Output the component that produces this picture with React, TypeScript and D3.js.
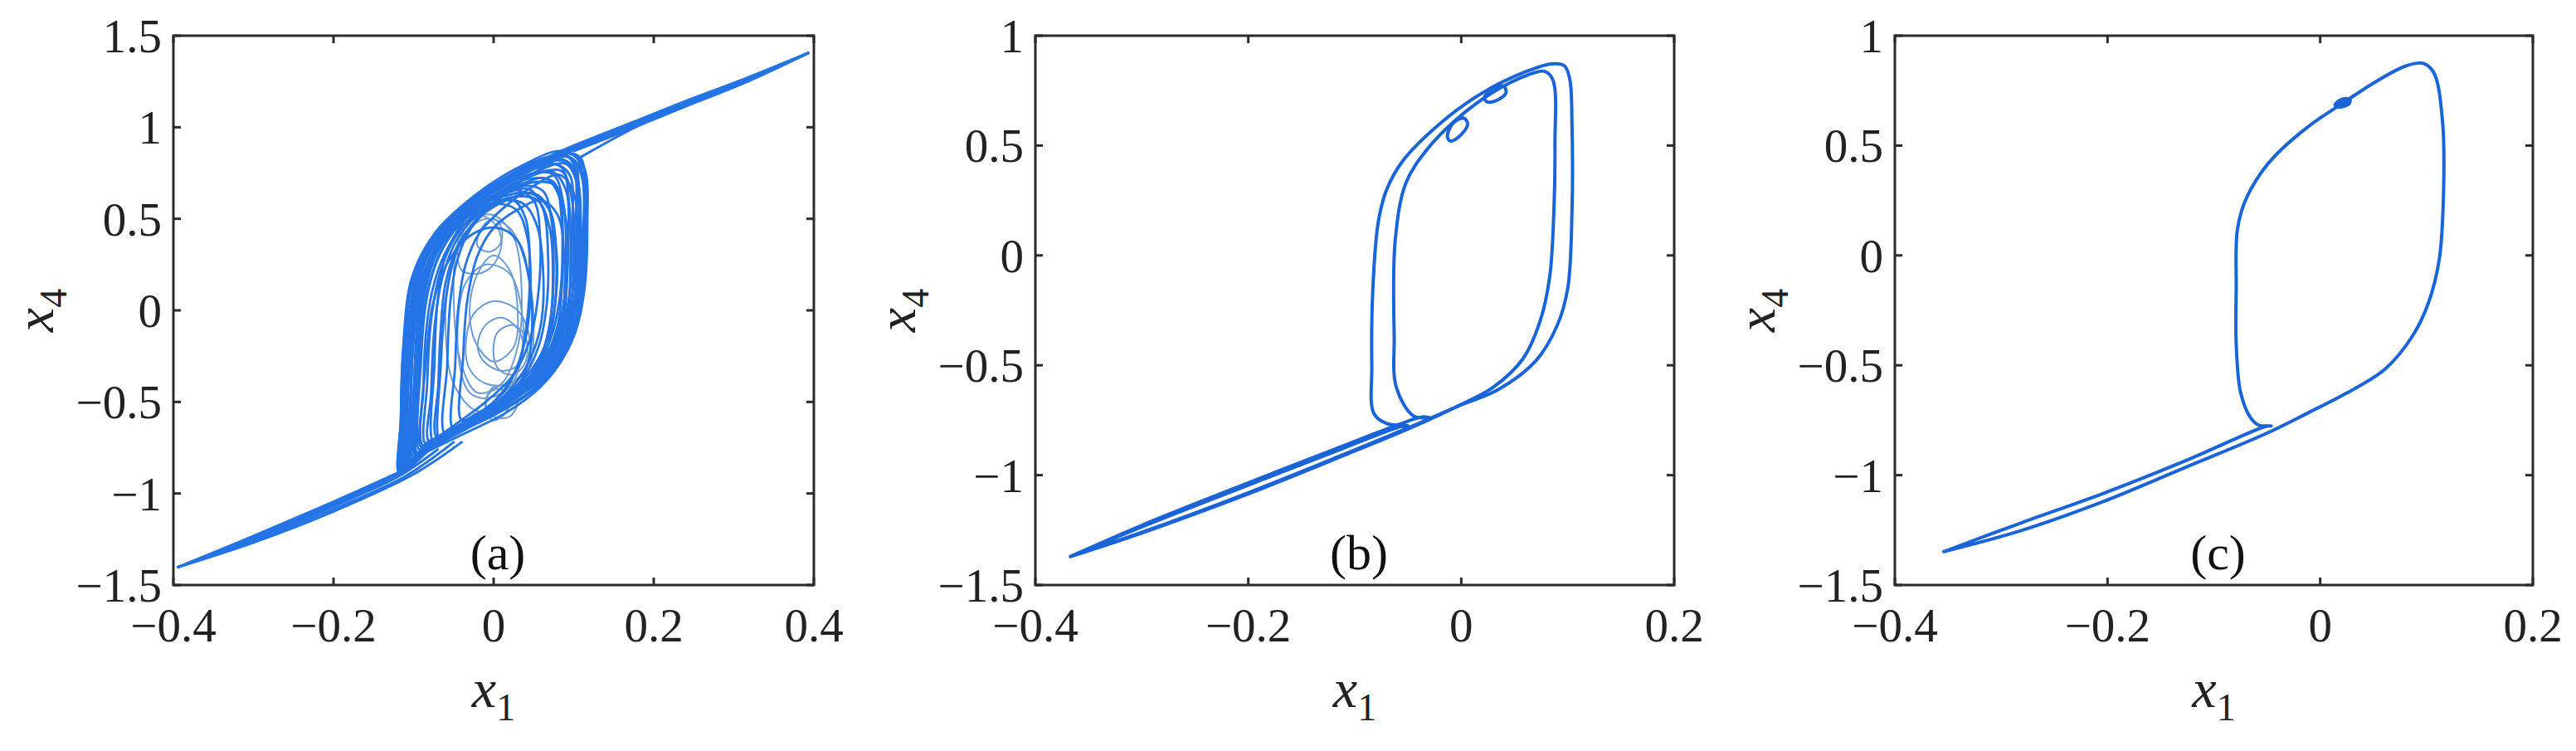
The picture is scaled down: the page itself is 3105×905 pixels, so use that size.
import React from 'react';
import * as d3 from 'd3';

type Pt = [number, number];

// ---- axes ticks ----
const aTicksX = [-0.4, -0.2, 0, 0.2, 0.4];
const aTicksY = [-1.5, -1, -0.5, 0, 0.5, 1, 1.5];
const bcTicksX = [-0.4, -0.2, 0, 0.2];
const bcTicksY = [-1.5, -1, -0.5, 0, 0.5, 1];
const panelLabels = ['(a)', '(b)', '(c)'];

// ---- panel (a): chaotic band ----
const aLoops: Pt[][] = [
  [[-0.116,-0.88],[-0.115,-0.55],[-0.111,-0.15],[-0.098,0.22],[-0.065,0.46],[-0.02,0.64],[0.035,0.79],[0.085,0.87],[0.11,0.80],[0.116,0.45],[0.112,0.10],[0.098,-0.14],[0.07,-0.33],[0.02,-0.50],[-0.04,-0.64],[-0.09,-0.78]],
  [[-0.112,-0.86],[-0.111,-0.5],[-0.106,-0.1],[-0.092,0.24],[-0.058,0.47],[-0.015,0.63],[0.04,0.78],[0.088,0.85],[0.108,0.76],[0.112,0.40],[0.108,0.06],[0.092,-0.17],[0.062,-0.35],[0.012,-0.51],[-0.045,-0.65],[-0.09,-0.76]],
  [[-0.108,-0.84],[-0.107,-0.45],[-0.101,-0.05],[-0.086,0.26],[-0.052,0.48],[-0.01,0.62],[0.045,0.77],[0.092,0.84],[0.105,0.72],[0.108,0.35],[0.103,0.02],[0.085,-0.2],[0.052,-0.38],[0.0,-0.53],[-0.05,-0.66],[-0.088,-0.75]],
  [[-0.104,-0.82],[-0.103,-0.4],[-0.097,0.0],[-0.08,0.28],[-0.045,0.5],[0.0,0.63],[0.05,0.74],[0.085,0.76],[0.098,0.6],[0.1,0.25],[0.093,-0.05],[0.072,-0.25],[0.04,-0.41],[-0.01,-0.55],[-0.055,-0.66],[-0.085,-0.74]],
  [[-0.1,-0.8],[-0.099,-0.38],[-0.093,0.02],[-0.076,0.3],[-0.042,0.5],[0.005,0.62],[0.05,0.7],[0.078,0.68],[0.09,0.5],[0.092,0.18],[0.084,-0.1],[0.062,-0.29],[0.03,-0.44],[-0.015,-0.56],[-0.058,-0.67],[-0.084,-0.74]],
  [[-0.097,-0.78],[-0.095,-0.35],[-0.088,0.05],[-0.07,0.32],[-0.036,0.52],[0.01,0.62],[0.045,0.64],[0.068,0.56],[0.078,0.35],[0.078,0.08],[0.068,-0.15],[0.048,-0.32],[0.018,-0.46],[-0.022,-0.57],[-0.06,-0.67],[-0.083,-0.73]],
  [[-0.093,-0.76],[-0.091,-0.3],[-0.083,0.08],[-0.064,0.34],[-0.03,0.52],[0.01,0.6],[0.038,0.58],[0.055,0.45],[0.062,0.2],[0.06,-0.05],[0.05,-0.22],[0.032,-0.37],[0.005,-0.5],[-0.03,-0.6],[-0.065,-0.68],[-0.083,-0.72]],
  [[-0.088,-0.74],[-0.085,-0.3],[-0.075,0.05],[-0.055,0.28],[-0.025,0.42],[0.005,0.45],[0.03,0.38],[0.045,0.15],[0.048,-0.1],[0.042,-0.3],[0.025,-0.45],[0.0,-0.56],[-0.035,-0.64],[-0.07,-0.7]],
  [[-0.118,-0.89],[-0.116,-0.6],[-0.113,-0.2],[-0.102,0.18],[-0.072,0.43],[-0.03,0.6],[0.02,0.74],[0.07,0.84],[0.1,0.82],[0.106,0.6],[0.105,0.3],[0.1,0.0],[0.084,-0.22],[0.05,-0.4],[-0.005,-0.55],[-0.06,-0.7],[-0.1,-0.82]],
  [[-0.114,-0.87],[-0.112,-0.58],[-0.108,-0.18],[-0.094,0.2],[-0.062,0.45],[-0.02,0.62],[0.03,0.75],[0.075,0.83],[0.098,0.79],[0.103,0.5],[0.1,0.15],[0.09,-0.08],[0.07,-0.26],[0.035,-0.42],[-0.015,-0.56],[-0.065,-0.7],[-0.1,-0.81]],
  [[-0.075,-0.72],[-0.074,-0.3],[-0.07,0.05],[-0.06,0.3],[-0.035,0.5],[0.0,0.65],[0.05,0.79],[0.095,0.86],[0.113,0.78],[0.117,0.45],[0.113,0.1],[0.1,-0.14],[0.07,-0.34],[0.02,-0.5],[-0.03,-0.62],[-0.06,-0.69]],
  [[-0.068,-0.7],[-0.066,-0.3],[-0.06,0.05],[-0.048,0.3],[-0.025,0.48],[0.01,0.63],[0.055,0.76],[0.09,0.8],[0.105,0.68],[0.108,0.35],[0.103,0.02],[0.088,-0.2],[0.055,-0.37],[0.01,-0.52],[-0.035,-0.62],[-0.058,-0.67]],
  [[-0.117,-0.885],[-0.116,-0.62],[-0.114,-0.3],[-0.105,0.08],[-0.085,0.33],[-0.05,0.52],[0.0,0.68],[0.05,0.8],[0.09,0.86],[0.109,0.83],[0.114,0.6],[0.114,0.25],[0.108,-0.02],[0.092,-0.22],[0.06,-0.4],[0.01,-0.55],[-0.05,-0.68],[-0.095,-0.8]],
  [[-0.11,-0.86],[-0.109,-0.55],[-0.105,-0.2],[-0.096,0.12],[-0.075,0.36],[-0.04,0.53],[0.005,0.67],[0.055,0.78],[0.088,0.82],[0.104,0.72],[0.107,0.45],[0.104,0.12],[0.094,-0.12],[0.07,-0.3],[0.03,-0.46],[-0.02,-0.59],[-0.07,-0.72]],
  [[-0.106,-0.84],[-0.104,-0.5],[-0.1,-0.15],[-0.09,0.15],[-0.068,0.38],[-0.032,0.55],[0.01,0.67],[0.05,0.75],[0.075,0.74],[0.088,0.55],[0.09,0.25],[0.085,-0.05],[0.07,-0.25],[0.042,-0.42],[0.0,-0.56],[-0.05,-0.68],[-0.09,-0.78]],
  [[-0.102,-0.82],[-0.1,-0.45],[-0.095,-0.1],[-0.084,0.18],[-0.06,0.4],[-0.025,0.55],[0.015,0.64],[0.045,0.66],[0.062,0.55],[0.068,0.3],[0.066,0.02],[0.056,-0.2],[0.035,-0.38],[0.0,-0.52],[-0.045,-0.65],[-0.085,-0.75]],
  [[-0.095,-0.78],[-0.094,-0.45],[-0.09,-0.1],[-0.08,0.15],[-0.062,0.35],[-0.035,0.5],[0.0,0.58],[0.028,0.55],[0.042,0.4],[0.046,0.1],[0.04,-0.15],[0.025,-0.35],[0.0,-0.5],[-0.04,-0.62],[-0.075,-0.71]],
  [[-0.06,-0.68],[-0.058,-0.3],[-0.054,0.05],[-0.045,0.28],[-0.028,0.45],[0.005,0.6],[0.05,0.75],[0.092,0.84],[0.11,0.76],[0.114,0.45],[0.11,0.1],[0.097,-0.13],[0.068,-0.33],[0.02,-0.5],[-0.025,-0.6]],
  [[-0.05,-0.65],[-0.048,-0.3],[-0.044,0.02],[-0.035,0.25],[-0.018,0.42],[0.01,0.55],[0.05,0.68],[0.082,0.74],[0.1,0.64],[0.104,0.35],[0.1,0.05],[0.087,-0.16],[0.058,-0.34],[0.015,-0.5],[-0.02,-0.58]],
  [[-0.04,-0.6],[-0.038,-0.25],[-0.033,0.05],[-0.02,0.3],[0.0,0.45],[0.03,0.55],[0.06,0.6],[0.08,0.52],[0.088,0.3],[0.087,0.0],[0.076,-0.2],[0.05,-0.37],[0.01,-0.5],[-0.02,-0.56]],
  [[-0.113,-0.87],[-0.112,-0.62],[-0.11,-0.3],[-0.102,0.0],[-0.088,0.25],[-0.06,0.45],[-0.02,0.6],[0.03,0.73],[0.075,0.8],[0.095,0.74],[0.098,0.45],[0.095,0.1],[0.082,-0.15],[0.055,-0.35],[0.015,-0.5],[-0.04,-0.65],[-0.09,-0.79]],
  [[-0.109,-0.85],[-0.108,-0.6],[-0.105,-0.3],[-0.098,-0.02],[-0.082,0.22],[-0.055,0.42],[-0.015,0.58],[0.035,0.71],[0.072,0.76],[0.09,0.66],[0.093,0.38],[0.088,0.05],[0.074,-0.18],[0.045,-0.37],[0.005,-0.52],[-0.045,-0.66],[-0.088,-0.77]],
  [[-0.115,-0.875],[-0.114,-0.65],[-0.112,-0.35],[-0.106,-0.05],[-0.095,0.2],[-0.072,0.4],[-0.035,0.57],[0.015,0.72],[0.065,0.82],[0.1,0.85],[0.112,0.72],[0.113,0.4],[0.108,0.05],[0.095,-0.18],[0.065,-0.37],[0.02,-0.52],[-0.035,-0.65],[-0.085,-0.77]],
  [[-0.098,-0.79],[-0.097,-0.5],[-0.094,-0.2],[-0.086,0.1],[-0.07,0.32],[-0.045,0.48],[-0.01,0.6],[0.025,0.66],[0.05,0.6],[0.058,0.4],[0.056,0.1],[0.046,-0.15],[0.025,-0.35],[-0.01,-0.5],[-0.05,-0.63],[-0.085,-0.74]],
  [[-0.085,-0.73],[-0.083,-0.4],[-0.078,-0.05],[-0.066,0.22],[-0.045,0.42],[-0.01,0.58],[0.03,0.68],[0.065,0.72],[0.082,0.62],[0.086,0.35],[0.082,0.05],[0.07,-0.17],[0.045,-0.36],[0.01,-0.5],[-0.035,-0.62],[-0.07,-0.7]],
  [[-0.08,-0.72],[-0.078,-0.45],[-0.074,-0.1],[-0.064,0.18],[-0.044,0.4],[-0.012,0.55],[0.025,0.62],[0.055,0.6],[0.07,0.45],[0.074,0.2],[0.07,-0.08],[0.057,-0.28],[0.032,-0.43],[-0.005,-0.55],[-0.045,-0.65]],
  [[-0.116,-0.88],[-0.115,-0.7],[-0.113,-0.4],[-0.108,-0.1],[-0.1,0.12],[-0.085,0.3],[-0.06,0.46],[-0.025,0.6],[0.02,0.72],[0.06,0.8],[0.085,0.78],[0.094,0.6],[0.096,0.3],[0.093,0.0],[0.08,-0.22],[0.05,-0.4],[0.005,-0.55],[-0.05,-0.68],[-0.095,-0.8]],
  [[-0.105,-0.83],[-0.104,-0.6],[-0.102,-0.3],[-0.096,0.0],[-0.085,0.2],[-0.065,0.38],[-0.035,0.52],[0.005,0.64],[0.045,0.72],[0.075,0.7],[0.085,0.5],[0.086,0.2],[0.08,-0.08],[0.062,-0.28],[0.03,-0.45],[-0.015,-0.58],[-0.065,-0.71]],
  [[-0.07,-0.7],[-0.069,-0.4],[-0.066,-0.1],[-0.06,0.15],[-0.045,0.35],[-0.02,0.5],[0.015,0.6],[0.05,0.64],[0.07,0.55],[0.078,0.3],[0.076,0.0],[0.066,-0.22],[0.044,-0.4],[0.01,-0.53],[-0.03,-0.63]],
  [[-0.112,-0.865],[-0.111,-0.65],[-0.109,-0.35],[-0.103,-0.08],[-0.092,0.15],[-0.072,0.35],[-0.042,0.52],[0.0,0.66],[0.045,0.77],[0.08,0.82],[0.1,0.78],[0.108,0.55],[0.109,0.2],[0.103,-0.05],[0.088,-0.25],[0.058,-0.42],[0.015,-0.56],[-0.04,-0.68],[-0.09,-0.79]],
  [[-0.1,-0.8],[-0.099,-0.55],[-0.097,-0.25],[-0.092,0.0],[-0.082,0.2],[-0.062,0.38],[-0.03,0.53],[0.01,0.63],[0.04,0.68],[0.062,0.65],[0.072,0.5],[0.075,0.25],[0.072,-0.02],[0.06,-0.24],[0.035,-0.42],[-0.005,-0.56],[-0.055,-0.68]],
  [[-0.09,-0.75],[-0.088,-0.45],[-0.085,-0.15],[-0.077,0.1],[-0.062,0.3],[-0.038,0.46],[-0.005,0.57],[0.025,0.6],[0.04,0.5],[0.045,0.25],[0.042,-0.05],[0.032,-0.28],[0.012,-0.45],[-0.02,-0.57],[-0.06,-0.68]],
];

const aInnerLoops: Pt[][] = [
  [[-0.02,-0.19],[-0.01,-0.08],[0.01,-0.04],[0.03,-0.1],[0.037,-0.2],[0.03,-0.3],[0.01,-0.33],[-0.012,-0.28]],
  [[-0.035,-0.2],[-0.025,-0.02],[0.0,0.05],[0.03,0.0],[0.045,-0.15],[0.042,-0.3],[0.02,-0.4],[-0.01,-0.4],[-0.03,-0.32]],
  [[-0.045,0.3],[-0.04,0.45],[-0.02,0.52],[0.0,0.48],[0.01,0.38],[0.0,0.25],[-0.02,0.2],[-0.04,0.22]],
  [[-0.01,-0.5],[0.0,-0.42],[0.02,-0.42],[0.03,-0.5],[0.02,-0.58],[0.0,-0.58]],
  [[-0.05,0.1],[-0.045,0.35],[-0.025,0.5],[0.0,0.52],[0.025,0.4],[0.035,0.1],[0.03,-0.2],[0.01,-0.4],[-0.02,-0.45],[-0.04,-0.3]],
  [[-0.03,0.0],[-0.02,0.2],[0.0,0.3],[0.02,0.22],[0.03,0.0],[0.025,-0.2],[0.0,-0.28],[-0.022,-0.18]],
  [[-0.06,-0.1],[-0.055,0.2],[-0.04,0.4],[-0.01,0.5],[0.02,0.45],[0.04,0.25],[0.05,-0.05],[0.045,-0.3],[0.02,-0.48],[-0.02,-0.55],[-0.05,-0.4]],
  [[-0.04,-0.35],[-0.045,-0.1],[-0.035,0.15],[-0.01,0.25],[0.02,0.2],[0.035,0.0],[0.035,-0.25],[0.02,-0.42],[-0.01,-0.48],[-0.03,-0.45]],
  [[-0.02,0.35],[-0.015,0.45],[0.0,0.5],[0.01,0.45],[0.008,0.36],[-0.005,0.32]],
  [[0.0,-0.25],[0.005,-0.12],[0.025,-0.08],[0.04,-0.15],[0.04,-0.28],[0.025,-0.35],[0.008,-0.33]],
  [[-0.01,-0.55],[-0.005,-0.45],[0.01,-0.43],[0.02,-0.48],[0.015,-0.56],[0.0,-0.6]],
];

const aTails: Pt[][] = [
  [[-0.394,-1.402],[-0.3,-1.232],[-0.2,-1.045],[-0.116,-0.88]],
  [[-0.394,-1.402],[-0.3,-1.24],[-0.2,-1.055],[-0.125,-0.905],[-0.09,-0.8]],
  [[-0.394,-1.402],[-0.3,-1.25],[-0.2,-1.07],[-0.12,-0.91],[-0.07,-0.76]],
  [[-0.394,-1.402],[-0.3,-1.26],[-0.2,-1.085],[-0.11,-0.905],[-0.05,-0.72]],
  [[-0.394,-1.402],[-0.3,-1.236],[-0.2,-1.05],[-0.12,-0.89]],
  [[-0.394,-1.402],[-0.3,-1.268],[-0.2,-1.098],[-0.1,-0.895],[-0.04,-0.72]],
  [[-0.394,-1.402],[-0.3,-1.245],[-0.2,-1.062],[-0.112,-0.87],[-0.1,-0.8]],
  [[0.08,0.86],[0.15,0.985],[0.235,1.135],[0.32,1.275],[0.393,1.405]],
  [[0.06,0.82],[0.15,0.97],[0.235,1.12],[0.32,1.265],[0.393,1.405]],
  [[0.1,0.87],[0.15,0.955],[0.235,1.105],[0.32,1.255],[0.393,1.405]],
  [[0.04,0.78],[0.1,0.9],[0.2,1.07],[0.3,1.24],[0.393,1.405]],
  [[0.11,0.84],[0.2,1.05],[0.3,1.225],[0.393,1.405]],
  [[0.09,0.86],[0.16,0.98],[0.25,1.14],[0.33,1.28],[0.393,1.405]],
  [[0.07,0.84],[0.15,0.975],[0.24,1.125],[0.32,1.26],[0.393,1.405]],
];

// ---- panel (b): two-loop orbit ----
const bOuter: Pt[] = [
  [-0.367,-1.37],[-0.3,-1.235],[-0.2,-1.045],[-0.11,-0.876],[-0.056,-0.778],[-0.05,-0.776],[-0.07,-0.765],
  [-0.082,-0.72],[-0.084,-0.5],[-0.083,-0.15],[-0.078,0.15],[-0.07,0.3],[-0.055,0.43],[-0.02,0.6],[0.02,0.74],
  [0.06,0.835],[0.085,0.872],[0.097,0.862],[0.102,0.8],[0.104,0.6],[0.104,0.2],[0.1,-0.15],[0.09,-0.32],
  [0.07,-0.48],[0.035,-0.61],[-0.005,-0.69],[-0.05,-0.785],[-0.11,-0.905],[-0.2,-1.08],[-0.3,-1.26],[-0.367,-1.37],
];
const bInner: Pt[] = [
  [-0.367,-1.37],[-0.3,-1.228],[-0.2,-1.035],[-0.11,-0.865],[-0.06,-0.772],[-0.037,-0.735],[-0.03,-0.738],
  [-0.045,-0.73],[-0.061,-0.6],[-0.063,-0.365],[-0.062,0.07],[-0.052,0.33],[-0.032,0.483],[-0.006,0.613],
  [0.03,0.743],[0.062,0.82],[0.078,0.838],[0.086,0.8],[0.088,0.5],[0.087,0.2],[0.083,-0.1],[0.074,-0.3],
  [0.058,-0.47],[0.03,-0.6],[-0.005,-0.69],[-0.05,-0.79],[-0.11,-0.91],[-0.2,-1.085],[-0.3,-1.263],[-0.367,-1.37],
];
const bSmall: Pt[][] = [
  [[-0.013,0.54],[-0.008,0.6],[0.002,0.625],[0.006,0.6],[0.0,0.55],[-0.01,0.52]],
  [[0.022,0.72],[0.03,0.76],[0.04,0.77],[0.042,0.74],[0.033,0.705],[0.024,0.7]],
];

// ---- panel (c): single-loop orbit ----
const cOrbit: Pt[] = [
  [-0.354,-1.348],[-0.28,-1.215],[-0.204,-1.083],[-0.127,-0.935],[-0.051,-0.778],[-0.046,-0.776],[-0.058,-0.772],
  [-0.066,-0.735],[-0.075,-0.62],[-0.079,-0.4],[-0.079,-0.148],[-0.078,0.113],[-0.071,0.243],[-0.056,0.374],
  [-0.041,0.461],[-0.01,0.591],[0.02,0.689],[0.051,0.787],[0.081,0.863],[0.097,0.874],[0.107,0.83],[0.115,0.613],
  [0.116,0.287],[0.112,-0.017],[0.102,-0.213],[0.087,-0.365],[0.061,-0.517],[0.025,-0.626],[-0.01,-0.713],
  [-0.051,-0.811],[-0.127,-0.965],[-0.204,-1.12],[-0.28,-1.25],[-0.354,-1.348],
];
const cBlob: Pt[] = [[0.014,0.685],[0.02,0.71],[0.028,0.71],[0.027,0.69],[0.018,0.675]];

const TOP = 43;
const BOTTOM = 705;
const FONT = '"Liberation Serif", "Times New Roman", serif';
const BLUE = '#1b64d8';

const fmt = (v: number) => String(v).replace('-', '\u2212');

type PanelProps = {
  left: number;
  right: number;
  xDomain: [number, number];
  yDomain: [number, number];
  xTicks: number[];
  yTicks: number[];
  label: string;
  draw: (x: d3.ScaleLinear<number, number>, y: d3.ScaleLinear<number, number>) => React.ReactNode;
};

function Panel({ left, right, xDomain, yDomain, xTicks, yTicks, label, draw }: PanelProps) {
  const x = d3.scaleLinear().domain(xDomain).range([left, right]);
  const y = d3.scaleLinear().domain(yDomain).range([BOTTOM, TOP]);
  const tick = 9;
  const cx = (left + right) / 2;
  const cy = (TOP + BOTTOM) / 2;
  return (
    <g>
      {draw(x, y)}
      <rect x={left} y={TOP} width={right - left} height={BOTTOM - TOP}
        fill="none" stroke="#2b2b2b" strokeWidth={3} />
      {xTicks.map(t => (
        <g key={'x' + t}>
          <line x1={x(t)} x2={x(t)} y1={BOTTOM} y2={BOTTOM - tick} stroke="#2b2b2b" strokeWidth={3} />
          <line x1={x(t)} x2={x(t)} y1={TOP} y2={TOP + tick} stroke="#2b2b2b" strokeWidth={3} />
          <text x={x(t)} y={773} textAnchor="middle" fontSize={57} fontFamily={FONT} fill="#222">{fmt(t)}</text>
        </g>
      ))}
      {yTicks.map(t => (
        <g key={'y' + t}>
          <line x1={left} x2={left + tick} y1={y(t)} y2={y(t)} stroke="#2b2b2b" strokeWidth={3} />
          <line x1={right} x2={right - tick} y1={y(t)} y2={y(t)} stroke="#2b2b2b" strokeWidth={3} />
          <text x={left - 14} y={y(t)} dy="0.35em" textAnchor="end" fontSize={57} fontFamily={FONT} fill="#222">{fmt(t)}</text>
        </g>
      ))}
      <text x={cx} y={852} textAnchor="middle" fontFamily={FONT} fill="#222" fontSize={66}>
        <tspan fontStyle="italic">x</tspan>
        <tspan fontSize={46} dy={16}>1</tspan>
      </text>
      <text transform={`translate(${left - 145},${cy}) rotate(-90)`} textAnchor="middle" fontFamily={FONT} fill="#222" fontSize={66}>
        <tspan fontStyle="italic">x</tspan>
        <tspan fontSize={46} dy={16}>4</tspan>
      </text>
      <text x={cx + 5} y={686} textAnchor="middle" fontSize={60} fontFamily={FONT} fill="#111">{label}</text>
    </g>
  );
}

export default function App() {
  const closed = (x: any, y: any) =>
    d3.line<Pt>().x(d => x(d[0])).y(d => y(d[1])).curve(d3.curveCatmullRomClosed.alpha(0.5));
  const open = (x: any, y: any) =>
    d3.line<Pt>().x(d => x(d[0])).y(d => y(d[1])).curve(d3.curveCatmullRom.alpha(0.5));

  return (
    <svg width={3105} height={905} style={{ position: 'absolute', left: 0, top: 0, background: '#fff' }}>
      <rect width={3105} height={905} fill="#fff" />
      <Panel left={209} right={981} xDomain={[-0.4, 0.4]} yDomain={[-1.5, 1.5]}
        xTicks={aTicksX} yTicks={aTicksY} label={panelLabels[0]}
        draw={(x, y) => (
          <g fill="none" strokeLinejoin="round" strokeLinecap="round">
            {aInnerLoops.map((l, i) => (
              <path key={'in' + i} d={closed(x, y)(l) || ''} stroke="#6d9cd2" strokeWidth={2} />
            ))}
            {aLoops.map((l, i) => (
              <path key={'lp' + i} d={closed(x, y)(l) || ''} stroke="#2474e6" strokeWidth={2.8} />
            ))}
            {aTails.map((l, i) => (
              <path key={'tl' + i} d={open(x, y)(l) || ''} stroke="#2474e6" strokeWidth={3} />
            ))}
          </g>
        )} />
      <Panel left={1248} right={2018} xDomain={[-0.4, 0.2]} yDomain={[-1.5, 1]}
        xTicks={bcTicksX} yTicks={bcTicksY} label={panelLabels[1]}
        draw={(x, y) => (
          <g fill="none" stroke={BLUE} strokeWidth={4} strokeLinejoin="round" strokeLinecap="round">
            <path d={open(x, y)(bOuter) || ''} />
            <path d={open(x, y)(bInner) || ''} />
            {bSmall.map((l, i) => <path key={i} d={closed(x, y)(l) || ''} />)}
          </g>
        )} />
      <Panel left={2284} right={3053} xDomain={[-0.4, 0.2]} yDomain={[-1.5, 1]}
        xTicks={bcTicksX} yTicks={bcTicksY} label={panelLabels[2]}
        draw={(x, y) => (
          <g fill="none" stroke={BLUE} strokeWidth={4} strokeLinejoin="round" strokeLinecap="round">
            <path d={open(x, y)(cOrbit) || ''} />
            <path d={closed(x, y)(cBlob) || ''} fill={BLUE} />
          </g>
        )} />
    </svg>
  );
}
